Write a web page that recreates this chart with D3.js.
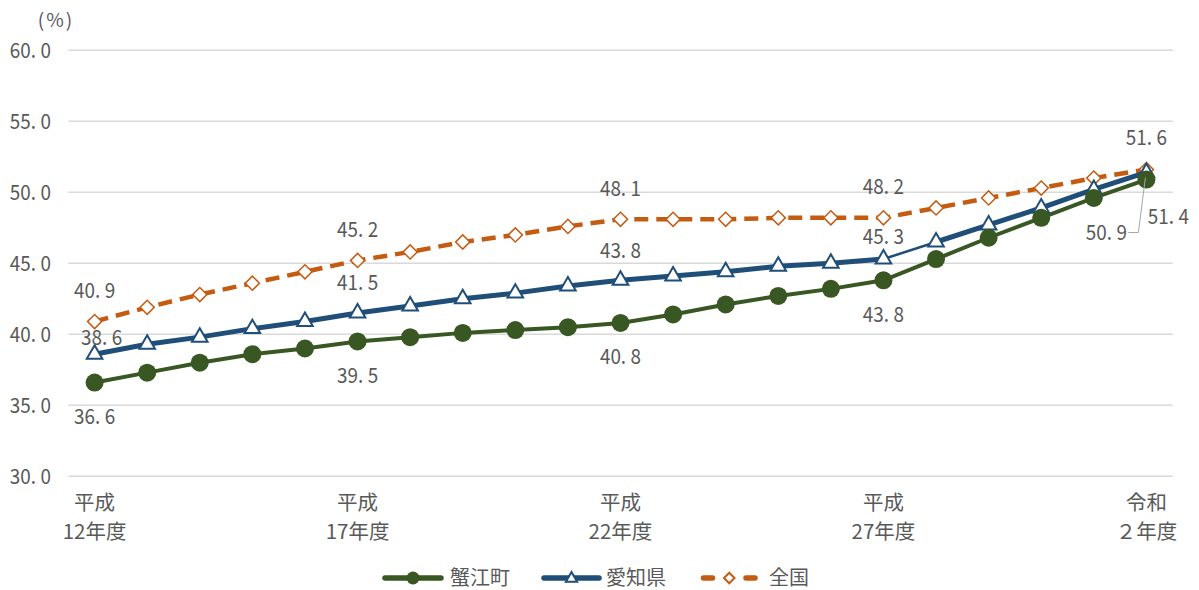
<!DOCTYPE html>
<html><head><meta charset="utf-8">
<script src="https://cdn.jsdelivr.net/npm/d3@7"></script>
<style>
html,body{margin:0;padding:0;background:#fff;}
svg{display:block;}
text{font-family:"Noto Sans CJK JP","Noto Sans",sans-serif;fill:#595959;}
</style></head>
<body>
<svg id="c" width="1199" height="590"></svg>
<script>
const categories = ["平成\n12年度","","","","","平成\n17年度","","","","","平成\n22年度","","","","","平成\n27年度","","","","","令和\n２年度"];
const seriesNames = ["蟹江町","愛知県","全国"];
const kanie = [36.6,37.3,38.0,38.6,39.0,39.5,39.8,40.1,40.3,40.5,40.8,41.4,42.1,42.7,43.2,43.8,45.3,46.8,48.2,49.6,50.9];
const aichi = [38.6,39.3,39.8,40.4,40.9,41.5,42.0,42.5,42.9,43.4,43.8,44.1,44.4,44.8,45.0,45.3,46.5,47.7,48.9,50.2,51.4];
const zenkoku = [40.9,41.9,42.8,43.6,44.4,45.2,45.8,46.5,47.0,47.6,48.1,48.1,48.1,48.2,48.2,48.2,48.9,49.6,50.3,51.0,51.6];
const yTicks = [30,35,40,45,50,55,60];
const labeledIdx = [0,5,10,15,20];

const svg = d3.select("#c");
const x = d3.scaleBand().domain(d3.range(categories.length)).range([68.3,1172.7]);
const cx = i => x(i) + x.bandwidth()/2;
const y = d3.scaleLinear().domain([30,60]).range([476.3,50.3]);
const SX = 0.9;

function fillNum(t, v){
  const s = v.toFixed(1).split(".");
  t.text(null);
  t.append("tspan").text(s[0]+".");
  t.append("tspan").attr("dx",5).text(s[1]);
}
function numText(g, px, py, v, anchor){
  const t = g.append("text").attr("transform",`translate(${px},${py}) scale(${SX},1)`)
    .attr("text-anchor",anchor).attr("dy","0.35em").attr("font-size",21);
  fillNum(t,v);
  return t;
}
function txt(g, px, py, s, anchor, size){
  return g.append("text").attr("x",px).attr("y",py)
    .attr("text-anchor",anchor).attr("dy","0.35em").attr("font-size",size||21).text(s);
}

// grid
svg.append("g").selectAll("line").data(yTicks).join("line")
  .attr("x1",68.3).attr("x2",1172.7).attr("y1",d=>y(d)).attr("y2",d=>y(d))
  .attr("stroke","#d9d9d9").attr("stroke-width",1.5);
// y axis
const yAxis = d3.axisLeft(y).tickValues(yTicks).tickSize(0).tickPadding(0).tickFormat(d=>d.toFixed(1));
const ga = svg.append("g").attr("transform","translate(51,0)").call(yAxis);
ga.select(".domain").remove();
ga.selectAll(".tick text").each(function(d){
  const t = d3.select(this).attr("x",0).attr("dy","0.35em").attr("font-size",21)
    .attr("font-family","'Noto Sans CJK JP'").attr("fill","#595959")
    .attr("transform",`scale(${SX},1)`);
  fillNum(t,d);
});

txt(svg,56,20,"(%)","middle",19).style("letter-spacing","2px");

// x labels
const gx = svg.append("g");
categories.forEach((c,i)=>{
  if(!c) return;
  c.split("\n").forEach((l,k)=>txt(gx,cx(i),503+k*29,l,"middle",20.5));
});

const colors = {g:"#385723", b:"#1f4e79", o:"#c55a11"};
const line = d3.line().x((d,i)=>cx(i)).y(d=>y(d));

svg.append("path").datum(zenkoku).attr("d",line).attr("fill","none")
  .attr("stroke",colors.o).attr("stroke-width",4.5).attr("stroke-dasharray","14,8");
for(let i=0;i<aichi.length-1;i++){
  svg.append("path").datum([aichi[i],aichi[i+1]])
   .attr("d",d3.line().x((d,k)=>cx(i+k)).y(d=>y(d)))
   .attr("fill","none").attr("stroke",colors.b).attr("stroke-width", i===15?2.5:5);
}
svg.append("path").datum(kanie).attr("d",line).attr("fill","none")
  .attr("stroke",colors.g).attr("stroke-width",4);

svg.append("g").selectAll("path").data(zenkoku).join("path")
  .attr("d",d3.symbol().type(d3.symbolSquare).size(100))
  .attr("transform",(d,i)=>`translate(${cx(i)},${y(d)}) rotate(45)`)
  .attr("fill","#fff").attr("stroke",colors.o).attr("stroke-width",1.5);
svg.append("g").selectAll("path").data(aichi).join("path")
  .attr("d",d3.symbol().type(d3.symbolTriangle).size(105))
  .attr("transform",(d,i)=>`translate(${cx(i)},${y(d)})`)
  .attr("fill","#fff").attr("stroke",colors.b).attr("stroke-width",2);
svg.append("g").selectAll("circle").data(kanie).join("circle")
  .attr("cx",(d,i)=>cx(i)).attr("cy",d=>y(d)).attr("r",9).attr("fill",colors.g);

// data labels
const lab = svg.append("g");
function addLabel(v,i,dx,dy){ numText(lab,cx(i)+dx,y(v)+dy,v,"middle"); }
labeledIdx.forEach(i=>{
  if(i<20){
    addLabel(zenkoku[i],i,0,-31);
    addLabel(aichi[i],i,i===0?7:0,i===0?-17:(i===15?-22:-30));
    addLabel(kanie[i],i,0,34);
  }
});
addLabel(zenkoku[20],20,0,-32);
addLabel(aichi[20],20,22,44);
addLabel(kanie[20],20,-40,53);
svg.append("path")
  .attr("d",`M${cx(20)-18},${y(kanie[20])+53} L${cx(20)-8},${y(kanie[20])+53} L${cx(20)-1},${y(kanie[20])-2}`)
  .attr("fill","none").attr("stroke","#a6a6a6").attr("stroke-width",1);

// legend
const leg = svg.append("g");
const ly = 578;
const items = [
  {name:seriesNames[0],x1:385,x2:441,tx:450,c:colors.g,m:"circle"},
  {name:seriesNames[1],x1:544,x2:599,tx:606,c:colors.b,m:"tri"},
  {name:seriesNames[2],x1:703.5,x2:755,tx:769,c:colors.o,m:"dia"}
];
items.forEach(it=>{
  const l = leg.append("line").attr("x1",it.x1).attr("x2",it.x2).attr("y1",ly).attr("y2",ly)
    .attr("stroke",it.c).attr("stroke-width",5.5).attr("stroke-linecap","round");
  if(it.m==="dia") l.attr("stroke-dasharray","9,33.5");
  const mx=(it.x1+it.x2)/2;
  if(it.m==="circle") leg.append("circle").attr("cx",mx).attr("cy",ly).attr("r",6.5).attr("fill",it.c);
  if(it.m==="tri") leg.append("path").attr("d",d3.symbol().type(d3.symbolTriangle).size(55)).attr("transform",`translate(${mx},${ly+0.5})`).attr("fill","#fff").attr("stroke",it.c).attr("stroke-width",2);
  if(it.m==="dia") leg.append("path").attr("d",d3.symbol().type(d3.symbolSquare).size(55)).attr("transform",`translate(${mx},${ly}) rotate(45)`).attr("fill","#fff").attr("stroke",it.c).attr("stroke-width",2);
  txt(leg,it.tx,ly,it.name,"start",20);
});
</script>
</body></html>
